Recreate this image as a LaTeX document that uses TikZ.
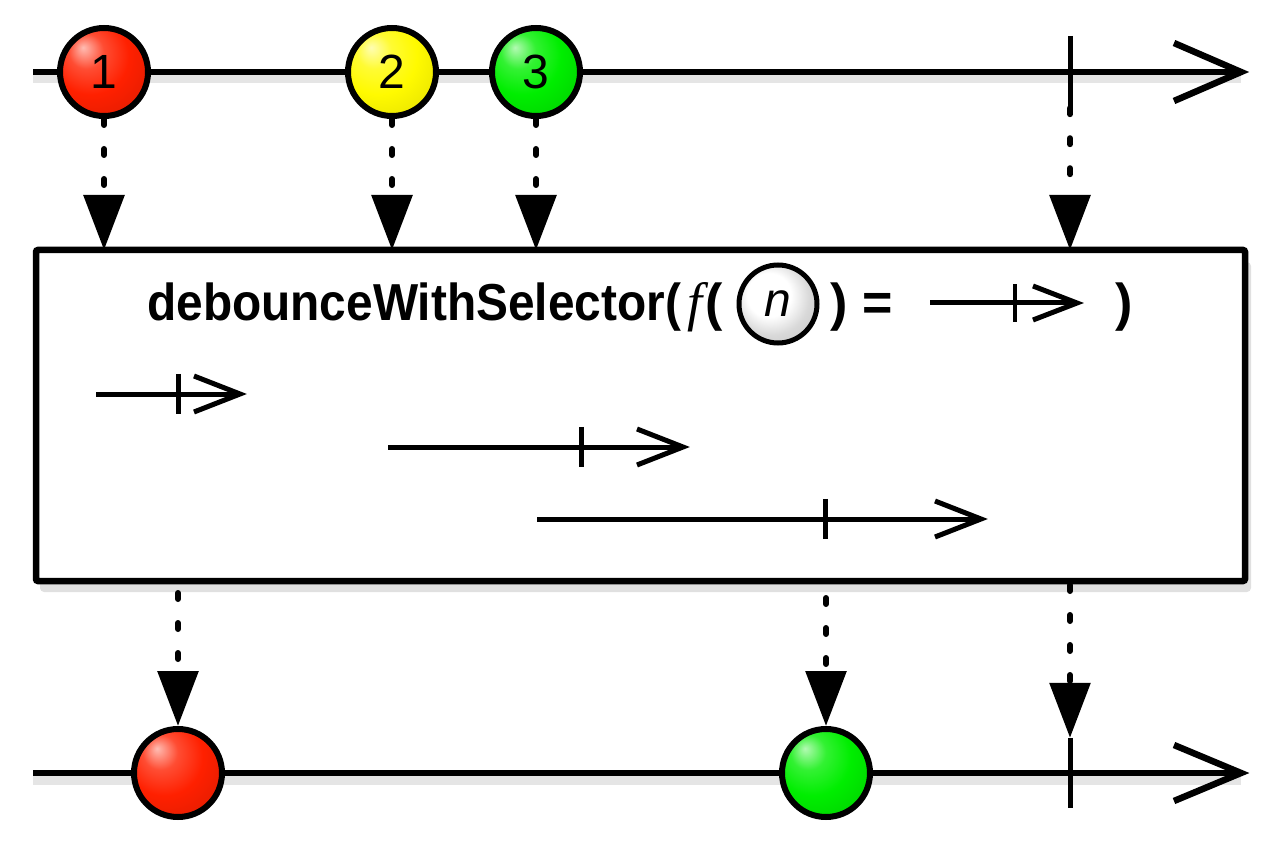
\documentclass[tikz,border=0pt]{standalone}
\usepackage{fontspec}
\setmainfont{Liberation Sans}
\newfontfamily\serifit{Liberation Serif}
\usetikzlibrary{arrows.meta}
\definecolor{mred}{RGB}{255,32,0}
\definecolor{myellow}{RGB}{255,250,0}
\definecolor{mgreen}{RGB}{0,238,0}
\pgfdeclareradialshading{nball}{\pgfpoint{-8bp}{8bp}}{color(0bp)=(white); color(14bp)=(white); color(24bp)=(black!15); color(50bp)=(black!32)}
\pgfdeclareradialshading{redball}{\pgfpoint{-12bp}{14bp}}{color(0bp)=(mred!30!white); color(10bp)=(mred!80!white); color(22bp)=(mred); color(42bp)=(mred!85!black); color(64bp)=(mred!55!black)}
\pgfdeclareradialshading{yellowball}{\pgfpoint{-12bp}{14bp}}{color(0bp)=(myellow!30!white); color(10bp)=(myellow!80!white); color(22bp)=(myellow); color(42bp)=(myellow!88!black); color(64bp)=(myellow!60!black)}
\pgfdeclareradialshading{greenball}{\pgfpoint{-12bp}{14bp}}{color(0bp)=(mgreen!30!white); color(10bp)=(mgreen!80!white); color(22bp)=(mgreen); color(42bp)=(mgreen!85!black); color(64bp)=(mgreen!55!black)}
\begin{document}
\begin{tikzpicture}[x=1pt,y=-1pt,
  tl/.style={line width=6.5pt},
  tickline/.style={line width=5pt},
  inarrow/.style={line width=5pt},
  shadowline/.style={line width=9pt,draw=black,opacity=0.10},
  marble/.style={circle,draw,line width=6pt,minimum size=88pt,inner sep=0pt,
    font=\fontsize{48}{48}\selectfont},
  droparrow/.style={line width=6pt,line cap=round,dash pattern=on 6pt off 24pt,
    -{Triangle[length=55pt,width=40pt]}},
  lbl/.style={anchor=base west,inner sep=0pt,font=\bfseries\fontsize{52}{52}\selectfont},
  pics/openhead/.style args={#1/#2}{code={\draw[miter limit=10] (-#1,-#2) -- (0,0) -- (-#1,#2);}}
]
\useasboundingbox (0,0) rectangle (1280,850);

% ---------- top timeline ----------
\coordinate (t1s) at (33,72);
\coordinate (t1e) at (1241,72);
\draw[shadowline] ([yshift=-7pt]t1s) -- ([yshift=-7pt]t1e);
\draw[tl] (t1s) -- (t1e);
\pic[tl] at (t1e) {openhead=67/29};
\node[inner sep=0pt,minimum height=72pt,minimum width=0pt] (k1) at (1070,72) {};
\draw[tickline] (k1.north) -- (k1.south);

\node[marble,shading=redball] (m1) at (104,72) {1};
\node[marble,shading=yellowball] (m2) at (392,72) {2};
\node[marble,shading=greenball] (m3) at (536,72) {3};

% ---------- operator box ----------
\fill[black,opacity=0.12,rounded corners=4pt] (40,262) rectangle (1251,592);
\node[draw,line width=6.5pt,fill=white,rounded corners=2pt,minimum width=1209pt,
  minimum height=331pt,inner sep=0pt,outer sep=0pt] (box) at (640.5,415.5) {};

% drop arrows into box
\draw[droparrow] (m1.south) -- (m1.south |- box.north);
\draw[droparrow] (m2.south) -- (m2.south |- box.north);
\draw[droparrow] (m3.south) -- (m3.south |- box.north);
\draw[droparrow] (k1.south) -- (k1.south |- box.north);

% label
\node[lbl] (l1) at (147,320) {\scalebox{0.92}[1]{debounceWithSelector(}};
\node[anchor=base,inner sep=0pt,font=\serifit\itshape\fontsize{54}{54}\selectfont] (lf) at (695,320) {f};
\node[lbl] (l2) at (705,320) {(};
\node[circle,draw,line width=5pt,minimum size=78pt,inner sep=0pt,shading=nball,
  font=\itshape\fontsize{48}{48}\selectfont] (ln) at (778,304) {n};
\node[lbl] (l3) at (830,320) {)};
\node[lbl] (l4) at (862,320) {=};
\coordinate (las) at (930,303);
\coordinate (lae) at (1077,303);
\draw[inarrow] (las) -- (lae);
\pic[inarrow] at (lae) {openhead=44/17};
\node[inner sep=0pt,minimum height=37pt,minimum width=0pt] (lk) at (1015,303) {};
\draw[tickline,line width=4.5pt] (lk.north) -- (lk.south);
\node[lbl] (l5) at (1115,320) {)};

% inner timelines
\coordinate (a1s) at (96,394);
\coordinate (a1e) at (240,394);
\draw[inarrow] (a1s) -- (a1e);
\pic[inarrow] at (a1e) {openhead=46/18};
\node[inner sep=0pt,minimum height=40pt,minimum width=0pt] (a1k) at (178,394) {};
\draw[tickline] (a1k.north) -- (a1k.south);

\coordinate (a2s) at (388,447);
\coordinate (a2e) at (683,447);
\draw[inarrow] (a2s) -- (a2e);
\pic[inarrow] at (a2e) {openhead=46/18};
\node[inner sep=0pt,minimum height=40pt,minimum width=0pt] (a2k) at (581,447) {};
\draw[tickline] (a2k.north) -- (a2k.south);

\coordinate (a3s) at (537,519);
\coordinate (a3e) at (981,519);
\draw[inarrow] (a3s) -- (a3e);
\pic[inarrow] at (a3e) {openhead=46/18};
\node[inner sep=0pt,minimum height=40pt,minimum width=0pt] (a3k) at (825,519) {};
\draw[tickline] (a3k.north) -- (a3k.south);

% ---------- bottom timeline ----------
\coordinate (t2s) at (33,773);
\coordinate (t2e) at (1241,773);
\draw[shadowline] ([yshift=-7pt]t2s) -- ([yshift=-7pt]t2e);
\draw[tl] (t2s) -- (t2e);
\pic[tl] at (t2e) {openhead=67/28};
\node[inner sep=0pt,minimum height=70pt,minimum width=0pt] (k2) at (1070,773) {};
\draw[tickline] (k2.north) -- (k2.south);

\node[marble,shading=redball] (m4) at (178,773) {};
\node[marble,shading=greenball] (m5) at (826,773) {};

% drop arrows out of box
\draw[droparrow] ([yshift=-12pt]m4 |- box.south) -- (m4.north);
\draw[droparrow] ([yshift=-17pt]m5 |- box.south) -- (m5.north);
\draw[droparrow] ([yshift=-4pt]k2 |- box.south) -- (k2.north);
\end{tikzpicture}
\end{document}
